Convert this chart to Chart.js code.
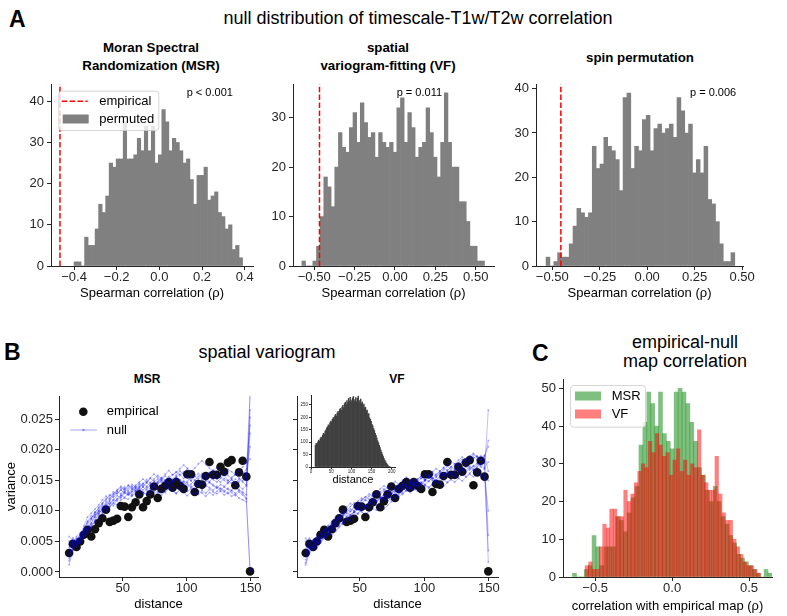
<!DOCTYPE html>
<html>
<head>
<meta charset="utf-8">
<title>null distribution of timescale-T1w/T2w correlation</title>
<script src="https://cdn.jsdelivr.net/npm/chart.js@4.4.1/dist/chart.umd.min.js"></script>
<style>
    html, body { margin: 0; padding: 0; background: #fff; overflow: hidden; }
    #fig { position: relative; width: 787px; height: 616px; font-family: "Liberation Sans", Arial, sans-serif; color: #000; }
    #fig canvas { position: absolute; }
    .txt { position: absolute; transform: translate(-50%, -50%); white-space: nowrap; line-height: 1.15; text-align: center; }
    .panel { font-weight: bold; font-size: 23px; transform: translate(0, -50%); }
    .sup { font-size: 18px; }
    .sub { font-weight: bold; font-size: 13.3px; line-height: 18px; }
    .subB { font-weight: bold; font-size: 12px; }
</style>
</head>
<body>
<div id="fig">
    <div class="txt panel" style="left:9px; top:19px">A</div>
    <div class="txt sup" style="left:418px; top:18px">null distribution of timescale-T1w/T2w correlation</div>
    <div class="txt sub" style="left:151px; top:57px">Moran Spectral<br>Randomization (MSR)</div>
    <div class="txt sub" style="left:388px; top:57px">spatial<br>variogram-fitting (VF)</div>
    <div class="txt sub" style="left:640px; top:58px">spin permutation</div>

    <div class="txt panel" style="left:4px; top:352px">B</div>
    <div class="txt sup" style="left:267px; top:352px">spatial variogram</div>
    <div class="txt subB" style="left:147px; top:380px">MSR</div>
    <div class="txt subB" style="left:397px; top:380px">VF</div>

    <div class="txt panel" style="left:532px; top:353px">C</div>
    <div class="txt sup" style="left:685px; top:352px; line-height:19px">empirical-null<br>map correlation</div>

    <canvas id="msrHist" width="269" height="233" style="left:0px; top:72px"></canvas>
    <canvas id="vfHist" width="257" height="233" style="left:253px; top:72px"></canvas>
    <canvas id="spinHist" width="263" height="233" style="left:496px; top:72px"></canvas>
    <canvas id="msrVario" width="274" height="232" style="left:0px; top:384px"></canvas>
    <canvas id="vfVario" width="257" height="232" style="left:257px; top:384px"></canvas>
    <canvas id="pairHist" width="112" height="100" style="left:289px; top:389px"></canvas>
    <canvas id="corrHist" width="264" height="251" style="left:523px; top:367px"></canvas>
</div>

<script>
// ---- A: null distributions of the timescale-T1w/T2w correlation ----
const msrBinStart = -0.40
const msrBinWidth = 0.01646
const msrCounts = [1, 1, 0, 7, 5, 5, 9, 15, 13, 17, 25, 24, 26, 26, 35, 26, 26, 27, 31, 28,
    34, 28, 34, 25, 27, 38, 35, 28, 31, 30, 28, 25, 26, 21, 15, 22, 22, 24, 16, 17,
    18, 13, 12, 9, 10, 4, 5, 2]

const vfBinStart = -0.576
const vfBinWidth = 0.0226
const vfCounts = [1, 0, 0, 1, 4, 10, 18, 16, 12, 20, 27, 24, 23, 28, 31, 25, 33, 29, 26, 27,
    22, 27, 25, 24, 25, 23, 32, 34, 25, 31, 28, 22, 24, 25, 32, 27, 22, 18, 25, 35,
    25, 20, 20, 13, 13, 9, 4, 4, 1, 1]

const spinBinStart = -0.533
const spinBinWidth = 0.0203
const spinCounts = [2, 0, 1, 3, 2, 2, 5, 9, 13, 12, 11, 12, 27, 22, 23, 29, 27, 26, 24, 17,
    38, 39, 22, 27, 26, 33, 34, 26, 31, 32, 30, 31, 32, 29, 38, 35, 30, 32, 21, 24,
    21, 27, 15, 14, 10, 5, 1, 1, 3]

const empiricalRho = [-0.466, -0.467, -0.455]      // MSR, VF, spin
const pLabels = ['p < 0.001', 'p = 0.011', 'p = 0.006']

const rhoTicks2 = [-0.4, -0.2, 0, 0.2, 0.4]
const rhoTicks4 = [-0.5, -0.25, 0, 0.25, 0.5]
const countTicks = [0, 10, 20, 30, 40]

// ---- B: spatial variograms ----
const distance = [8.2, 11.1, 14.0, 16.8, 19.7, 22.6, 25.5, 28.4, 31.3, 34.2, 37.0, 39.9, 42.8, 45.7, 48.6,
    51.5, 54.4, 57.2, 60.1, 63.0, 65.9, 68.8, 71.6, 74.5, 77.4, 80.3, 83.2, 86.1, 89.0, 91.8,
    94.7, 97.6, 100.5, 103.4, 106.3, 109.1, 112.0, 114.9, 117.8, 120.7, 123.6, 126.4, 129.3, 132.2, 135.1,
    138.0, 140.9, 143.7, 146.6, 149.5]

const empiricalVariance = [.0031, .0046, .0041, .0050, .0061, .0069, .0058, .0070, .0080, .0088,
    .0102, .0082, .0084, .0087, .0108, .0107, .0090, .0106, .0114, .0127,
    .0106, .0116, .0127, .0140, .0121, .0136, .0141, .0147, .0138, .0147,
    .0141, .0136, .0160, .0160, .0131, .0144, .0143, .0157, .0180, .0159,
    .0159, .0172, .0164, .0179, .0183, .0142, .0163, .0182, .0156, .0001]

const msrNullLines = [
    [.0012, .0035, .0042, .0050, .0058, .0066, .0075, .0082, .0090, .0095, .0101, .0108, .0112, .0110, .0118, .0121, .0119, .0125, .0128, .0124, .0130, .0127, .0133, .0131, .0128, .0134, .0130, .0136, .0133, .0129, .0135, .0138, .0132, .0136, .0130, .0127, .0133, .0129, .0135, .0131, .0128, .0132, .0126, .0130, .0124, .0127, .0121, .0118, .0115, .0003],
    [.0058, .0052, .0049, .0061, .0068, .0079, .0087, .0098, .0104, .0112, .0118, .0125, .0131, .0128, .0135, .0139, .0133, .0140, .0137, .0143, .0139, .0146, .0141, .0148, .0152, .0146, .0150, .0156, .0149, .0155, .0160, .0153, .0158, .0150, .0156, .0161, .0154, .0149, .0155, .0151, .0147, .0153, .0158, .0150, .0145, .0152, .0148, .0155, .0162, .0290],
    [.0030, .0040, .0046, .0052, .0071, .0083, .0092, .0089, .0101, .0097, .0109, .0115, .0108, .0120, .0126, .0122, .0129, .0124, .0131, .0136, .0130, .0127, .0134, .0140, .0136, .0142, .0138, .0145, .0141, .0137, .0143, .0149, .0146, .0140, .0136, .0142, .0147, .0141, .0138, .0134, .0140, .0136, .0131, .0137, .0133, .0129, .0135, .0131, .0126, .0253],
    [.0045, .0048, .0055, .0060, .0064, .0070, .0080, .0091, .0099, .0110, .0106, .0117, .0124, .0132, .0128, .0136, .0142, .0138, .0134, .0140, .0145, .0139, .0136, .0142, .0148, .0155, .0150, .0146, .0152, .0158, .0165, .0160, .0154, .0149, .0143, .0148, .0144, .0150, .0146, .0141, .0137, .0143, .0140, .0146, .0151, .0145, .0140, .0136, .0141, .0227],
    [.0022, .0038, .0044, .0047, .0060, .0063, .0072, .0085, .0094, .0103, .0115, .0111, .0118, .0125, .0121, .0129, .0126, .0132, .0140, .0135, .0129, .0136, .0143, .0138, .0144, .0149, .0143, .0139, .0146, .0151, .0147, .0142, .0148, .0156, .0150, .0146, .0152, .0159, .0163, .0157, .0152, .0147, .0153, .0149, .0155, .0160, .0154, .0149, .0158, .0205],
    [.0040, .0056, .0050, .0058, .0075, .0090, .0096, .0103, .0110, .0118, .0124, .0119, .0127, .0133, .0138, .0134, .0141, .0136, .0132, .0138, .0144, .0151, .0146, .0141, .0147, .0153, .0160, .0166, .0159, .0163, .0169, .0175, .0170, .0164, .0170, .0177, .0182, .0176, .0170, .0165, .0171, .0167, .0162, .0168, .0164, .0159, .0166, .0172, .0178, .0185],
    [.0050, .0045, .0058, .0064, .0070, .0082, .0088, .0095, .0106, .0113, .0120, .0126, .0122, .0129, .0134, .0130, .0126, .0131, .0137, .0133, .0139, .0134, .0129, .0135, .0131, .0126, .0132, .0138, .0133, .0128, .0134, .0130, .0125, .0131, .0127, .0133, .0129, .0124, .0130, .0126, .0132, .0137, .0133, .0128, .0134, .0139, .0133, .0129, .0121, .0001],
    [.0028, .0043, .0051, .0056, .0062, .0074, .0079, .0093, .0100, .0107, .0104, .0112, .0118, .0116, .0123, .0131, .0137, .0143, .0139, .0145, .0141, .0147, .0153, .0149, .0145, .0151, .0157, .0152, .0148, .0154, .0150, .0145, .0139, .0144, .0150, .0156, .0161, .0156, .0162, .0167, .0161, .0157, .0163, .0158, .0153, .0159, .0165, .0160, .0168, .0240],
    [.0035, .0050, .0047, .0055, .0068, .0072, .0086, .0098, .0095, .0104, .0111, .0121, .0128, .0135, .0140, .0136, .0131, .0127, .0133, .0139, .0134, .0140, .0146, .0152, .0158, .0153, .0148, .0144, .0150, .0156, .0151, .0147, .0143, .0138, .0144, .0140, .0135, .0141, .0147, .0143, .0138, .0133, .0139, .0135, .0130, .0125, .0131, .0126, .0119, .0290],
    [.0018, .0036, .0053, .0048, .0057, .0068, .0077, .0084, .0097, .0102, .0099, .0106, .0114, .0119, .0125, .0132, .0128, .0135, .0142, .0147, .0152, .0147, .0154, .0160, .0155, .0150, .0146, .0153, .0159, .0164, .0158, .0163, .0168, .0162, .0157, .0152, .0158, .0153, .0148, .0154, .0160, .0155, .0150, .0145, .0151, .0146, .0152, .0147, .0142, .0265]
]

const vfNullLines = [
    [.0012, .0030, .0038, .0045, .0052, .0058, .0065, .0070, .0076, .0080, .0085, .0090, .0094, .0098, .0103, .0108, .0105, .0112, .0117, .0114, .0120, .0125, .0122, .0128, .0133, .0130, .0136, .0141, .0138, .0144, .0140, .0146, .0151, .0148, .0154, .0150, .0157, .0162, .0158, .0164, .0160, .0167, .0171, .0166, .0173, .0169, .0176, .0172, .0168, .0265],
    [.0055, .0048, .0052, .0058, .0064, .0070, .0068, .0075, .0081, .0086, .0092, .0097, .0103, .0100, .0108, .0113, .0118, .0114, .0121, .0125, .0121, .0128, .0133, .0129, .0136, .0141, .0137, .0144, .0149, .0145, .0152, .0156, .0151, .0158, .0163, .0158, .0165, .0170, .0166, .0172, .0177, .0173, .0180, .0185, .0179, .0186, .0190, .0184, .0178, .0016],
    [.0030, .0042, .0040, .0048, .0055, .0062, .0071, .0077, .0083, .0089, .0095, .0091, .0099, .0106, .0102, .0098, .0095, .0099, .0104, .0101, .0106, .0103, .0109, .0115, .0121, .0127, .0133, .0139, .0135, .0142, .0147, .0143, .0150, .0155, .0151, .0146, .0153, .0159, .0164, .0160, .0156, .0162, .0167, .0163, .0169, .0174, .0170, .0165, .0159, .0035],
    [.0045, .0038, .0046, .0053, .0061, .0067, .0074, .0080, .0087, .0093, .0100, .0106, .0112, .0109, .0116, .0121, .0117, .0124, .0129, .0125, .0131, .0136, .0132, .0128, .0134, .0140, .0145, .0141, .0147, .0152, .0148, .0143, .0149, .0155, .0160, .0156, .0162, .0167, .0173, .0168, .0174, .0179, .0184, .0180, .0187, .0192, .0188, .0183, .0190, .0205],
    [.0020, .0035, .0044, .0050, .0049, .0056, .0063, .0069, .0074, .0081, .0078, .0085, .0091, .0097, .0103, .0100, .0107, .0113, .0118, .0115, .0122, .0118, .0124, .0129, .0126, .0132, .0137, .0133, .0139, .0145, .0141, .0147, .0143, .0149, .0154, .0150, .0156, .0152, .0158, .0163, .0168, .0164, .0170, .0175, .0171, .0166, .0172, .0177, .0170, .0180],
    [.0038, .0046, .0052, .0047, .0058, .0066, .0072, .0078, .0084, .0090, .0097, .0103, .0099, .0106, .0112, .0118, .0123, .0119, .0125, .0130, .0136, .0141, .0137, .0143, .0148, .0144, .0150, .0155, .0151, .0146, .0152, .0157, .0162, .0158, .0164, .0169, .0165, .0171, .0176, .0181, .0177, .0183, .0188, .0184, .0190, .0194, .0189, .0185, .0191, .0165],
    [.0025, .0040, .0036, .0043, .0050, .0057, .0063, .0060, .0068, .0075, .0081, .0087, .0084, .0090, .0096, .0102, .0108, .0105, .0111, .0108, .0114, .0119, .0116, .0122, .0127, .0123, .0129, .0134, .0130, .0136, .0132, .0138, .0143, .0139, .0144, .0149, .0145, .0151, .0147, .0153, .0158, .0154, .0160, .0156, .0162, .0167, .0163, .0159, .0156, .0100],
    [.0050, .0055, .0049, .0056, .0062, .0069, .0076, .0083, .0090, .0087, .0094, .0100, .0107, .0113, .0110, .0117, .0122, .0128, .0124, .0131, .0127, .0133, .0139, .0135, .0141, .0137, .0143, .0149, .0145, .0140, .0147, .0153, .0158, .0154, .0149, .0155, .0161, .0157, .0163, .0158, .0165, .0170, .0166, .0172, .0167, .0173, .0178, .0174, .0181, .0060],
    [.0033, .0044, .0050, .0056, .0053, .0060, .0067, .0073, .0079, .0085, .0091, .0096, .0093, .0099, .0105, .0111, .0107, .0113, .0119, .0115, .0121, .0126, .0122, .0118, .0125, .0131, .0127, .0133, .0138, .0134, .0140, .0145, .0141, .0137, .0143, .0148, .0144, .0140, .0146, .0151, .0147, .0153, .0149, .0155, .0160, .0156, .0161, .0157, .0152, .0150],
    [.0015, .0032, .0041, .0039, .0047, .0055, .0061, .0068, .0066, .0073, .0080, .0086, .0092, .0098, .0095, .0102, .0108, .0114, .0111, .0117, .0123, .0120, .0127, .0133, .0130, .0137, .0142, .0139, .0146, .0142, .0149, .0154, .0150, .0157, .0153, .0160, .0164, .0160, .0167, .0172, .0168, .0175, .0180, .0176, .0183, .0188, .0184, .0190, .0186, .0215]
]

const varianceTicks = [0, 0.005, 0.010, 0.015, 0.020, 0.025]
const distanceTicks = [50, 100, 150]

// inset: histogram of pairwise distances
const pairBinStart = 10
const pairBinWidth = 2
const pairCounts = [88, 95, 92, 101, 108, 104, 115, 121, 118, 129,
    136, 131, 145, 150, 158, 162, 170, 166, 178, 185,
    181, 192, 199, 195, 206, 212, 205, 218, 224, 219,
    231, 236, 228, 242, 248, 239, 255, 261, 250, 268,
    259, 276, 265, 281, 270, 262, 278, 284, 266, 272,
    280, 263, 277, 286, 259, 268, 274, 256, 262, 248,
    253, 238, 241, 226, 229, 212, 215, 198, 192, 184,
    172, 166, 155, 147, 136, 128, 117, 106, 98, 87,
    78, 68, 59, 50, 42, 34, 27, 21, 15, 10,
    6, 3, 1]
const pairXTicks = [0, 50, 100, 150, 200]
const pairYTicks = [0, 50, 100, 150, 200, 250]

// ---- C: empirical-null map correlation ----
const corrMsrStart = -0.647
const corrMsrWidth = 0.0254
const corrMsrCounts = [1, 0, 0, 2, 3, 11, 8, 3, 8, 8, 8, 16, 15, 12, 17, 21, 24, 35, 41, 49,
    46, 40, 49, 38, 36, 34, 49, 50, 49, 46, 41, 36, 29, 27, 23, 20, 24, 20, 16, 14,
    11, 9, 6, 5, 4, 3, 2, 1, 0, 2, 1]

const corrVfStart = -0.565
const corrVfWidth = 0.0228
const corrVfCounts = [3, 4, 2, 2, 8, 14, 13, 18, 18, 16, 16, 23, 20, 22, 25, 28, 30, 29, 36, 33,
    38, 35, 32, 33, 27, 31, 34, 28, 31, 27, 30, 29, 39, 27, 25, 23, 23, 32, 22, 17,
    15, 15, 10, 8, 6, 4, 3, 3, 2, 1]

const corrXTicks = [-0.5, 0, 0.5]
const corrYTicks = [0, 10, 20, 30, 40, 50]


Chart.defaults.font.family = '"Liberation Sans", Arial, sans-serif'
Chart.defaults.color = '#262626'

const INK = '#262626'

function fmt(digits) {
    return (value) => Number(value).toFixed(digits).replace('-', '\u2212')
}

function histPoints(start, width, counts) {
    return counts.map((c, i) => ({ x: start + width * (i + 0.5), y: c }))
}

// one matplotlib-like axis: only the spine, outward ticks, fixed size
function axis(o) {
    return {
        type: 'linear',
        display: o.display !== false,
        min: o.min,
        max: o.max,
        offset: false,
        afterBuildTicks: (scale) => {
            if (o.ticks) scale.ticks = o.ticks.map((v) => ({ value: v }))
        },
        afterFit: (scale) => {
            if (o.size === undefined) return
            if (scale.isHorizontal()) scale.height = o.size
            else scale.width = o.size
        },
        border: { display: true, color: INK, width: 1 },
        grid: { display: true, drawOnChartArea: false, drawTicks: true, tickLength: o.tickLength || 4, color: INK, offset: false },
        ticks: {
            padding: o.pad === undefined ? 0 : o.pad,
            color: INK,
            font: { size: o.font || 13 },
            maxRotation: 0,
            autoSkip: false,
            callback: o.fmt
        },
        title: o.title ? {
            display: true,
            text: o.title,
            color: '#000',
            font: { size: o.titleSize || 13 },
            padding: o.titlePad || { top: 4, bottom: 4 }
        } : { display: false }
    }
}

function baseOptions(scales, padding) {
    return {
        responsive: false,
        animation: false,
        devicePixelRatio: 1,
        layout: { padding: padding || { top: 12, right: 16, bottom: 0, left: 0 } },
        scales: scales,
        plugins: {
            legend: { display: false },
            tooltip: { enabled: false },
            title: { display: false }
        }
    }
}

// legend box drawn inside the axes, positions relative to the chart area
function drawLegend(chart, box) {
    const { ctx, chartArea } = chart
    const x0 = chartArea.left + box.dx
    const y0 = chartArea.top + box.dy
    ctx.save()
    if (box.frame) {
        ctx.fillStyle = 'rgba(255,255,255,0.8)'
        ctx.strokeStyle = 'rgba(204,204,204,0.8)'
        ctx.lineWidth = 1
        ctx.beginPath()
        if (ctx.roundRect) ctx.roundRect(x0 + 0.5, y0 + 0.5, box.w, box.h, 3)
        else ctx.rect(x0 + 0.5, y0 + 0.5, box.w, box.h)
        ctx.fill()
        ctx.stroke()
    }
    ctx.font = '13px "Liberation Sans", Arial, sans-serif'
    ctx.textBaseline = 'middle'
    ctx.textAlign = 'left'
    box.items.forEach((it) => {
        const hx = chartArea.left + it.hx
        const hy = chartArea.top + it.hy
        if (it.kind === 'dash') {
            ctx.strokeStyle = it.color
            ctx.lineWidth = 1.5
            ctx.setLineDash([5.5, 2.4])
            ctx.beginPath()
            ctx.moveTo(hx, hy)
            ctx.lineTo(hx + 26, hy)
            ctx.stroke()
            ctx.setLineDash([])
        } else if (it.kind === 'patch') {
            ctx.fillStyle = it.color
            ctx.fillRect(hx, hy - 4.5, 26, 9)
        } else if (it.kind === 'dot') {
            ctx.fillStyle = it.color
            ctx.beginPath()
            ctx.arc(hx + 13, hy, 4.3, 0, Math.PI * 2)
            ctx.fill()
        } else if (it.kind === 'line') {
            ctx.strokeStyle = it.color
            ctx.lineWidth = 1
            ctx.beginPath()
            ctx.moveTo(hx, hy)
            ctx.lineTo(hx + 27, hy)
            ctx.stroke()
            ctx.fillStyle = it.color
            ctx.beginPath()
            ctx.arc(hx + 13.5, hy, 1.3, 0, Math.PI * 2)
            ctx.fill()
        }
        ctx.fillStyle = '#000'
        ctx.fillText(it.label, chartArea.left + box.tx, hy)
    })
    ctx.restore()
}

function drawNote(chart, text, dx, dy) {
    const { ctx, chartArea } = chart
    ctx.save()
    ctx.font = '11px "Liberation Sans", Arial, sans-serif'
    ctx.fillStyle = '#000'
    ctx.textBaseline = 'middle'
    ctx.textAlign = 'left'
    ctx.fillText(text, chartArea.left + dx, chartArea.top + dy)
    ctx.restore()
}

function showNullHist(id, o) {
    const ctx = document.getElementById(id).getContext('2d')
    new Chart(ctx, {
        type: 'bar',
        data: {
            datasets: [
                {
                    type: 'line',
                    data: [{ x: o.rho, y: 0 }, { x: o.rho, y: o.yMax }],
                    borderColor: '#ff0000',
                    borderWidth: 1.5,
                    borderDash: [5.5, 2.4],
                    pointRadius: 0,
                    order: 0
                },
                {
                    data: histPoints(o.start, o.width, o.counts),
                    backgroundColor: '#808080',
                    borderWidth: 0,
                    barPercentage: 1,
                    categoryPercentage: 1,
                    order: 1
                }
            ]
        },
        options: baseOptions({
            x: axis({ min: o.xMin, max: o.xMax, ticks: o.xTicks, fmt: fmt(o.digits), size: 39, title: 'Spearman correlation (\u03c1)' }),
            y: axis({ min: 0, max: o.yMax, ticks: countTicks.filter((t) => t < o.yMax), fmt: fmt(0), size: o.yWidth, pad: 3 })
        }),
        plugins: [{
            id: id + 'Decor',
            afterDatasetsDraw(chart) {
                drawNote(chart, o.note, o.noteDx, o.noteDy)
                if (o.legend) drawLegend(chart, o.legend)
            }
        }]
    })
}

function showVariogram(id, o) {
    const datasets = o.nullLines.map((line) => ({
        data: distance.map((d, i) => ({ x: d, y: line[i] })),
        showLine: true,
        borderColor: 'rgba(0,0,255,0.25)',
        borderWidth: 1,
        pointRadius: 1.1,
        pointBackgroundColor: 'rgba(0,0,255,0.25)',
        pointBorderWidth: 0,
        order: 0
    }))
    datasets.push({
        data: distance.map((d, i) => ({ x: d, y: empiricalVariance[i] })),
        pointRadius: 4.3,
        pointBackgroundColor: '#111111',
        pointBorderWidth: 0,
        order: 1
    })

    const ctx = document.getElementById(id).getContext('2d')
    new Chart(ctx, {
        type: 'scatter',
        data: { datasets: datasets },
        options: baseOptions({
            x: axis({ min: o.xMin, max: o.xMax, ticks: distanceTicks, fmt: fmt(0), size: 39, title: 'distance' }),
            y: axis({
                min: -0.00082, max: 0.0288, ticks: varianceTicks,
                fmt: o.yLabels ? fmt(3) : () => '',
                size: o.yWidth, pad: 2,
                title: o.yLabels ? 'variance' : null
            })
        }),
        plugins: [{
            id: id + 'Decor',
            afterDatasetsDraw(chart) {
                if (o.legend) drawLegend(chart, o.legend)
            }
        }]
    })
}

function showPairHist() {
    const ctx = document.getElementById('pairHist').getContext('2d')
    new Chart(ctx, {
        type: 'bar',
        data: {
            datasets: [{
                data: histPoints(pairBinStart, pairBinWidth, pairCounts),
                backgroundColor: '#404040',
                borderWidth: 0,
                barPercentage: 1,
                categoryPercentage: 1
            }]
        },
        options: baseOptions({
            x: axis({
                min: 0, max: 208, ticks: pairXTicks, fmt: fmt(0), size: 22, font: 4.5, tickLength: 2, pad: 0,
                title: 'distance', titleSize: 11, titlePad: { top: 0, bottom: 2 }
            }),
            y: axis({ min: 0, max: 290, ticks: pairYTicks, fmt: fmt(0), size: 22, font: 4.5, tickLength: 2, pad: 1 })
        }, { top: 6, right: 6, bottom: 0, left: 0 })
    })
}

function showCorrHist() {
    const canvas = document.getElementById('corrHist')
    const xMin = -0.709
    const xMax = 0.649
    const yWidth = 40
    const padRight = 15
    // pixel width of one bin, so both overlapping histograms keep their own bin size
    const areaWidth = canvas.width - yWidth - padRight
    const binPx = (w) => areaWidth * w / (xMax - xMin)

    new Chart(canvas.getContext('2d'), {
        type: 'bar',
        data: {
            datasets: [
                {
                    label: 'VF',
                    xAxisID: 'x2',
                    data: histPoints(corrVfStart, corrVfWidth, corrVfCounts),
                    backgroundColor: 'rgba(255,0,0,0.5)',
                    borderWidth: 0,
                    grouped: false,
                    barThickness: binPx(corrVfWidth),
                    barPercentage: 1,
                    categoryPercentage: 1,
                    order: 0
                },
                {
                    label: 'MSR',
                    xAxisID: 'x',
                    data: histPoints(corrMsrStart, corrMsrWidth, corrMsrCounts),
                    backgroundColor: 'rgba(0,128,0,0.5)',
                    borderWidth: 0,
                    grouped: false,
                    barThickness: binPx(corrMsrWidth),
                    barPercentage: 1,
                    categoryPercentage: 1,
                    order: 1
                }
            ]
        },
        options: baseOptions({
            x: axis({ min: xMin, max: xMax, ticks: corrXTicks, fmt: fmt(1), size: 41, title: 'correlation with empirical map (\u03c1)' }),
            x2: axis({ display: false, min: xMin, max: xMax }),
            y: axis({ min: 0, max: 52.5, ticks: corrYTicks, fmt: fmt(0), size: yWidth, pad: 3 })
        }, { top: 12, right: padRight, bottom: 0, left: 0 }),
        plugins: [{
            id: 'corrDecor',
            afterDatasetsDraw(chart) {
                drawLegend(chart, {
                    frame: true, dx: 7, dy: 6, w: 75, h: 41.7, tx: 48.7,
                    items: [
                        { kind: 'patch', color: 'rgba(0,128,0,0.5)', label: 'MSR', hx: 12, hy: 17 },
                        { kind: 'patch', color: 'rgba(255,0,0,0.5)', label: 'VF', hx: 12, hy: 35 }
                    ]
                })
            }
        }]
    })
}

document.addEventListener('DOMContentLoaded', () => {
    showNullHist('msrHist', {
        start: msrBinStart, width: msrBinWidth, counts: msrCounts, rho: empiricalRho[0],
        xMin: -0.508, xMax: 0.439, yMax: 44.2, xTicks: rhoTicks2, digits: 1, yWidth: 51,
        note: pLabels[0], noteDx: 135.7, noteDy: 8.7,
        legend: {
            frame: true, dx: 7.3, dy: 6.7, w: 100, h: 39.3, tx: 48.3,
            items: [
                { kind: 'dash', color: '#ff0000', label: 'empirical', hx: 10.7, hy: 17.3 },
                { kind: 'patch', color: '#808080', label: 'permuted', hx: 11.7, hy: 35 }
            ]
        }
    })
    showNullHist('vfHist', {
        start: vfBinStart, width: vfBinWidth, counts: vfCounts, rho: empiricalRho[1],
        xMin: -0.631, xMax: 0.613, yMax: 36.8, xTicks: rhoTicks4, digits: 2, yWidth: 40,
        note: pLabels[1], noteDx: 103.7, noteDy: 9.3
    })
    showNullHist('spinHist', {
        start: spinBinStart, width: spinBinWidth, counts: spinCounts, rho: empiricalRho[2],
        xMin: -0.586, xMax: 0.505, yMax: 41.05, xTicks: rhoTicks4, digits: 2, yWidth: 40,
        note: pLabels[2], noteDx: 154, noteDy: 8.7
    })

    showVariogram('msrVario', {
        nullLines: msrNullLines, xMin: 0.3, xMax: 155.7, yWidth: 59, yLabels: true,
        legend: {
            frame: false, dx: 0, dy: 0, tx: 47.7,
            items: [
                { kind: 'dot', color: '#111111', label: 'empirical', hx: 11.3, hy: 15.7 },
                { kind: 'line', color: 'rgba(0,0,255,0.35)', label: 'null', hx: 11, hy: 34 }
            ]
        }
    })
    showVariogram('vfVario', { nullLines: vfNullLines, xMin: 1.5, xMax: 157, yWidth: 40, yLabels: false })
    showPairHist()

    showCorrHist()
})
</script>
</body>
</html>
